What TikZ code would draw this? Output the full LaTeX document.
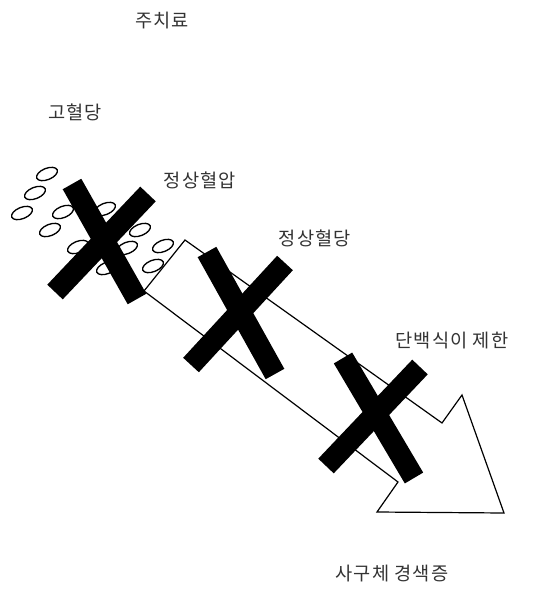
\documentclass[tikz,border=0pt]{standalone}
\usepackage{fontspec}
\usetikzlibrary{shapes.geometric}
\newfontfamily\krfont{Noto Sans CJK KR}[LetterSpace=6]

\begin{document}
\begin{tikzpicture}[x=0.75pt, y=-0.75pt,
    label/.style={font=\krfont\fontsize{14}{16}\selectfont, text=black!80, inner sep=0pt},
    dot/.style={draw, line width=1pt, ellipse, minimum width=16.5pt, minimum height=8.5pt, inner sep=0pt, rotate=22},
    xbar/.style={line width=16pt, line cap=butt}]

        \useasboundingbox (0,0) rectangle (535,590);

        % Arrow
        \draw[line width=0.9pt, fill=white] (185,240) -- (442,423) -- (462,395) -- (504,513)
            -- (377,512) -- (398,482) -- (144,291) -- cycle;

        % Sugar
        \foreach \px/\py [count=\i] in {47/174, 35/193, 22/213, 63/212, 50/230, 105/209,
                                        78/247, 140/230, 127/248, 163/246, 153/266, 107/268}
            \node[dot] (g\i) at (\px,\py) {};

        % Crosses
        \draw[xbar] (72,184) -- (137,299);
        \draw[xbar] (148,194) -- (55,292);
        \draw[xbar] (207,252) -- (275,374);
        \draw[xbar] (285,263) -- (191,365);
        \draw[xbar] (343,358) -- (414,478);
        \draw[xbar] (420,367) -- (326,466);

        % Labels
        \node[label] (main) at (162,21) {주치료};
        \node[label] (hyper) at (75,112) {고혈당};
        \node[label] (bp) at (200,180) {정상혈압};
        \node[label] (bg) at (315,238) {정상혈당};
        \node[label] (diet) at (452,341) {단백식이 제한};
        \node[label] (gs) at (392,574) {사구체 경색증};

    \end{tikzpicture}
\end{document}
